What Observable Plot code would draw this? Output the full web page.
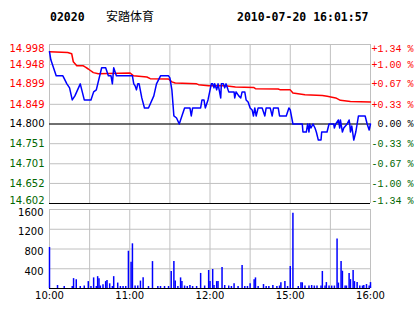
<!DOCTYPE html>
<html><head><meta charset="utf-8">
<script src="https://cdn.jsdelivr.net/npm/d3@7"></script>
<script src="https://cdn.jsdelivr.net/npm/@observablehq/plot@0.6"></script>
<style>
body{margin:0;background:#fff;}
#chart{position:relative;width:414px;height:314px;overflow:hidden;background:#fff;}
#title{position:relative;height:30px;}
#title span{position:absolute;white-space:pre;line-height:12px;}
.mono{font-weight:bold;font-size:11.5px;font-family:"DejaVu Sans Mono",monospace;top:11px;}
.cjk{font-size:12px;font-family:"Noto Sans CJK SC",sans-serif;top:10px;}
svg{display:block;}
</style></head><body>
<div id="chart"><div id="title"></div></div>
<script>
const stockCode = "02020";
const stockName = "安踏体育";
const timestamp = "2010-07-20 16:01:57";
const prevClose = 14.80;

const priceTicks = [14.998, 14.948, 14.899, 14.849, 14.800, 14.751, 14.701, 14.652, 14.602];
const priceTickLabels = ["14.998", "14.948", "14.899", "14.849", "14.800", "14.751", "14.701", "14.652", "14.602"];
const pctTickLabels = ["+1.34 %", "+1.00 %", "+0.67 %", "+0.33 %", "0.00 %", "-0.33 %", "-0.67 %", "-1.00 %", "-1.34 %"];

const gridMinutes = [0, 30, 60, 90, 120, 150, 180, 210, 240];
const timeTicks = [0, 60, 120, 180, 240];
const timeLabels = ["10:00", "11:00", "12:00", "15:00", "16:00"];

const volTicks = [400, 800, 1200, 1600];
const volTickLabels = ["400", "800", "1200", "1600"];

const priceMinutes = [0,1,3,5,10,13,15,17,19,23,26,31,33,35,39,42,44,46,47,48,50,62,63,64,65,66,67,69,71,74,78,80,83,89,90,91.5,93,95,97,99,101,105,106,107,113,114,115.5,116.5,118.5,121,122,123,123.5,125,126,128,128.5,130,131,132,133.5,134,138,138.5,139.5,141.5,143,144,146,147,148.5,150,151.5,152.5,153.5,154.5,156,159,161,162,165,166.5,167.5,171,172,177,178.5,179,180,182,189,189.5,192,193,194,194.5,195.5,197,198.5,199.5,201,203,203.5,207.5,209,212.5,213,214,216,217,217.5,219,220,222.5,224,224.5,225,226,227.5,229,230,231,236,237.5,239,240];
const prices = [14.98,14.96,14.94,14.92,14.92,14.90,14.89,14.86,14.87,14.90,14.86,14.86,14.88,14.885,14.94,14.94,14.92,14.92,14.90,14.94,14.92,14.92,14.90,14.895,14.885,14.90,14.90,14.865,14.84,14.84,14.87,14.90,14.92,14.92,14.915,14.885,14.82,14.815,14.80,14.82,14.84,14.84,14.82,14.84,14.84,14.86,14.86,14.84,14.86,14.90,14.90,14.89,14.90,14.885,14.90,14.865,14.90,14.90,14.89,14.90,14.885,14.88,14.88,14.865,14.88,14.87,14.865,14.88,14.88,14.86,14.855,14.84,14.835,14.82,14.84,14.82,14.84,14.84,14.82,14.84,14.84,14.82,14.84,14.84,14.82,14.82,14.835,14.84,14.835,14.80,14.80,14.78,14.78,14.80,14.78,14.80,14.79,14.80,14.79,14.78,14.76,14.76,14.78,14.78,14.80,14.80,14.79,14.80,14.81,14.79,14.81,14.78,14.79,14.80,14.81,14.80,14.78,14.795,14.76,14.78,14.80,14.82,14.82,14.80,14.785,14.80];

const avgMinutes = [0,13.6,16.6,17.8,20.4,25.3,26.6,29,32.8,36.5,60.3,62.8,72.8,75.3,89,91.5,94,110,111.4,119,131.4,139,152.6,154,171,172.6,180,182,191,204,207.6,214,217.5,225,240];
const avgPrices = [14.98,14.978,14.975,14.955,14.945,14.945,14.942,14.937,14.928,14.925,14.927,14.920,14.917,14.913,14.912,14.905,14.902,14.900,14.898,14.895,14.895,14.892,14.891,14.888,14.887,14.885,14.885,14.877,14.873,14.871,14.869,14.865,14.859,14.856,14.855];

const volMinutes = [0,6,11,17,18,20,23,26,29,31,33,35,36,37,38,40,42,43,45,47,48,51,53,55,57,59,61,62,64,66,68,70,74,77,81,83,86,89,91,93,94,96,98,99,101,103,105,107,110,113,116,119,120,122,123,125,126,129,131,134,136,138,141,144,146,148,150,153,154,156,160,162,164,167,170,172,173,176,178,180,182,186,188,189,191,194,196,198,200,203,204,206,207,209,211,213,215,216,218,219,221,222,224,225,227,228,230,232,234,235,237,239,240];
const volumes = [830,60,40,40,200,175,40,50,140,40,215,40,240,195,50,75,140,160,95,40,240,110,40,40,40,755,530,905,50,50,150,220,40,545,40,40,40,40,345,545,150,40,215,140,50,40,60,40,40,305,50,365,140,385,60,140,140,425,60,50,40,95,40,465,40,40,95,175,215,40,80,40,40,60,40,50,115,140,40,445,1525,40,115,115,50,50,60,50,50,50,345,50,120,50,50,50,1005,110,545,350,50,50,305,180,365,140,120,50,50,60,80,50,120];

// title
const title = document.getElementById("title");
[[stockCode, "mono", 50], [stockName, "cjk", 106], [timestamp, "mono", 237]].forEach(([t, c, l]) => {
  const s = document.createElement("span"); s.className = c; s.style.left = l + "px"; s.textContent = t; title.appendChild(s);
});

const colorFor = v => Math.abs(v - prevClose) < 1e-6 ? "#000000" : (v > prevClose ? "#ff0000" : "#006600");
const tickData = priceTicks.map((v, i) => ({v, label: priceTickLabels[i], pct: pctTickLabels[i]}));
const midTicks = tickData.slice(1, -1), topTick = [tickData[0]], botTick = [tickData[tickData.length - 1]];
const pricePts = priceMinutes.map((m, i) => ({m, p: prices[i]}));
const avgPts = avgMinutes.map((m, i) => ({m, p: avgPrices[i]}));
const volPts = volMinutes.map((m, i) => ({m, v: volumes[i]}));

const leftOpts = {y: "v", text: "label", fill: d => colorFor(d.v), frameAnchor: "left", textAnchor: "end", dx: -5, fontFamily: "DejaVu Sans", fontSize: 10};
const rightOpts = {y: "v", text: "pct", fill: d => colorFor(d.v), frameAnchor: "right", textAnchor: "end", dx: 43, fontFamily: "Liberation Mono", fontSize: 10};

const priceChart = Plot.plot({
  width: 414, height: 176, marginLeft: 49, marginRight: 44, marginTop: 14, marginBottom: 3,
  x: {domain: [0, 240], axis: null},
  y: {domain: [priceTicks[priceTicks.length - 1], priceTicks[0]], axis: null},
  color: {type: "identity"},
  style: {background: "transparent", overflow: "visible"},
  marks: [
    Plot.ruleX(gridMinutes, {stroke: "#c0c0c0"}),
    Plot.ruleY(priceTicks, {stroke: "#c0c0c0"}),
    Plot.ruleY([prevClose, priceTicks[priceTicks.length - 1]], {stroke: "#000000"}),
    Plot.line(avgPts, {x: "m", y: "p", stroke: "#ff0000"}),
    Plot.line(pricePts, {x: "m", y: "p", stroke: "#0000ff"}),
    Plot.text(midTicks, leftOpts),
    Plot.text(topTick, {...leftOpts, lineAnchor: "top"}),
    Plot.text(botTick, {...leftOpts, lineAnchor: "bottom"}),
    Plot.text(midTicks, rightOpts),
    Plot.text(topTick, {...rightOpts, lineAnchor: "top"}),
    Plot.text(botTick, {...rightOpts, lineAnchor: "bottom"})
  ]
});

const volTickData = volTicks.map((v, i) => ({v, label: volTickLabels[i]}));
const timeData = timeTicks.map((m, i) => ({m, label: timeLabels[i]}));

const volChart = Plot.plot({
  width: 414, height: 108, marginLeft: 49, marginRight: 44, marginTop: 3, marginBottom: 26,
  x: {domain: [0, 240], axis: null},
  y: {domain: [0, volTicks[volTicks.length - 1]], axis: null},
  style: {background: "transparent", overflow: "visible"},
  marks: [
    Plot.ruleX(gridMinutes, {stroke: "#c0c0c0"}),
    Plot.ruleY(volTicks, {stroke: "#c0c0c0"}),
    Plot.ruleX(volPts, {x: "m", y1: 0, y2: "v", stroke: "#0000ff", strokeWidth: 1.5}),
    Plot.ruleY([0], {stroke: "#000000"}),
    Plot.text(volTickData, {y: "v", text: "label", frameAnchor: "left", textAnchor: "end", dx: -6, dy: 3, fill: "#000000", fontFamily: "DejaVu Sans", fontSize: 10}),
    Plot.text(timeData, {x: "m", text: "label", frameAnchor: "bottom", dy: 10, fill: "#000000", fontFamily: "DejaVu Sans", fontSize: 10})
  ]
});

const chart = document.getElementById("chart");
chart.appendChild(priceChart);
chart.appendChild(volChart);
</script>
</body></html>
